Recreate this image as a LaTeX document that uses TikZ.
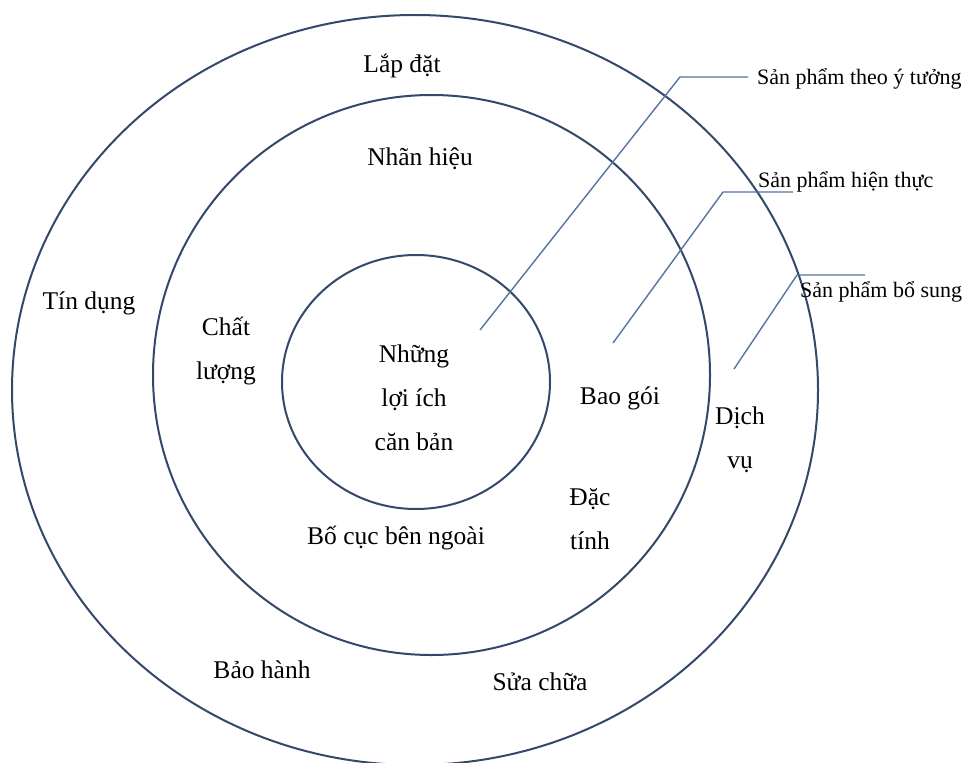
\documentclass[tikz,border=0pt]{standalone}
\usepackage{fontspec}
\setmainfont{Liberation Serif}
\begin{document}
\begin{tikzpicture}[x=1pt,y=-1pt,
  ring/.style={draw=ringcol,line width=2pt},
  leader/.style={draw=leadcol,line width=1.4pt},
  lbl/.style={inner sep=0pt,font=\fontsize{25.5}{44}\selectfont,align=center},
  side/.style={inner sep=0pt,anchor=base,font=\fontsize{22}{26}\selectfont}]
\definecolor{ringcol}{HTML}{34496A}
\definecolor{leadcol}{HTML}{5574A0}
\useasboundingbox[fill=white] (0,0) rectangle (965,762);

% three product levels
\draw[ring] (415,390) ellipse [x radius=403, y radius=375];
\draw[ring] (431.5,375) ellipse [x radius=278.5, y radius=280];
\draw[ring] (416,382) ellipse [x radius=134, y radius=127];

% labels of the outer ring
\node[lbl,anchor=base] (lapdat) at (402,73) {Lắp đặt};
\node[lbl,anchor=base] (tindung) at (89,309) {Tín dụng};
\node[lbl] (dichvu) at (740,440) {Dịch\\vụ};
\node[lbl,anchor=base] (baohanh) at (262,678) {Bảo hành};
\node[lbl,anchor=base] (suachua) at (540,690) {Sửa chữa};

% labels of the middle ring
\node[lbl,anchor=base] (nhanhieu) at (420,165) {Nhãn hiệu};
\node[lbl] (chatluong) at (226,351) {Chất\\lượng};
\node[lbl,anchor=base] (baogoi) at (620,404) {Bao gói};
\node[lbl] (dactinh) at (590,519) {Đặc\\tính};
\node[lbl,anchor=base] (bocuc) at (396,544) {Bố cục bên ngoài};

% core
\node[lbl] (loiich) at (414,398) {Những\\lợi ích\\căn bản};

% level names with leader lines
\node[side,anchor=base west] (ytuong) at (757,85) {Sản phẩm theo ý tưởng};
\node[side,anchor=base west] (hienthuc) at (758,187) {Sản phẩm hiện thực};
\node[side,anchor=base west] (bosung) at (800,297) {Sản phẩm bổ sung};

\coordinate (p1) at (480,330);
\coordinate (k1) at (680,77);
\coordinate (h1) at (748,77);
\coordinate (p2) at (613,343);
\coordinate (k2) at (723,192);
\coordinate (h2) at (793,192);
\coordinate (p3) at (734,369);
\coordinate (k3) at (797,275);
\coordinate (h3) at (865,275);

\draw[leader] (p1) -- (k1) -- (h1);
\draw[leader] (p2) -- (k2) -- (h2);
\draw[leader] (p3) -- (k3) -- (h3);
\end{tikzpicture}
\end{document}
